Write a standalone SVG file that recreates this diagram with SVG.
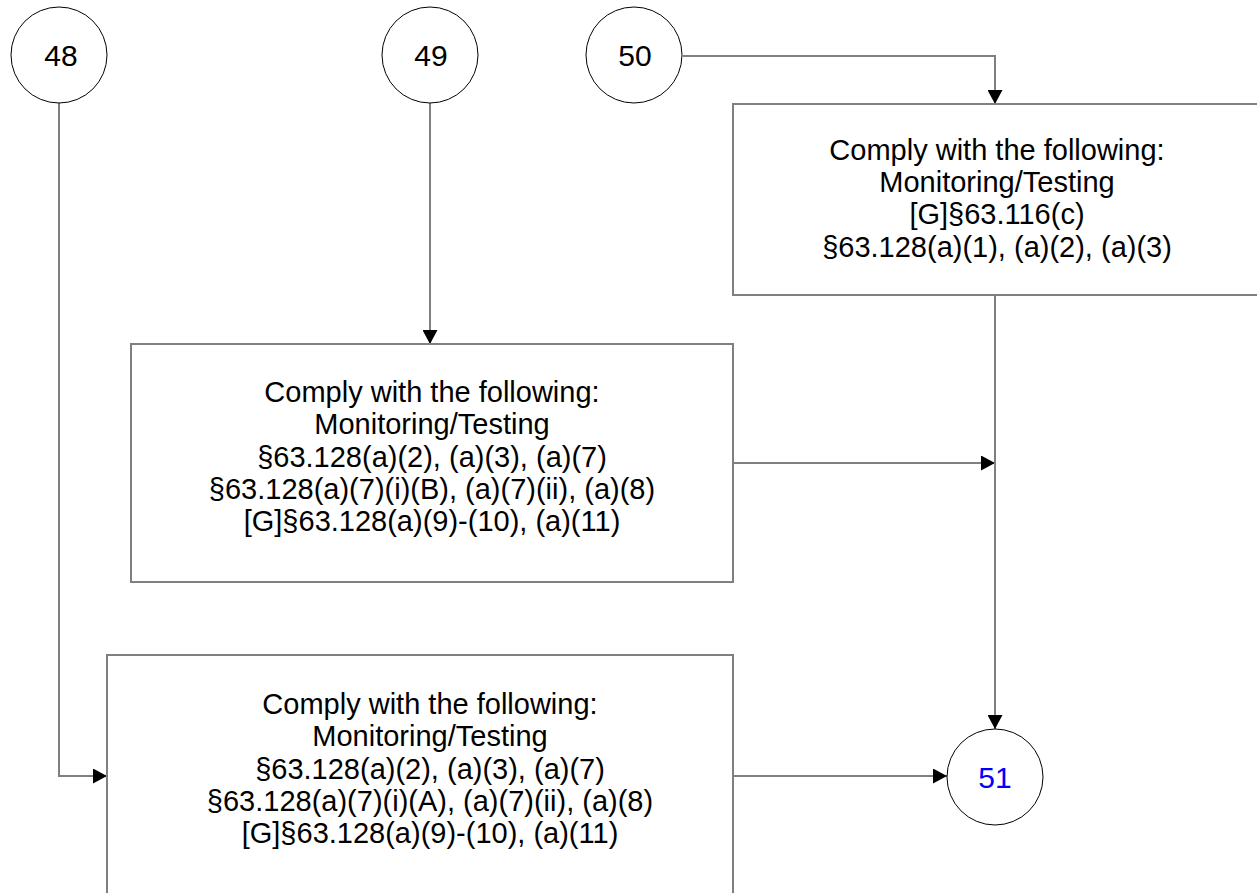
<svg xmlns="http://www.w3.org/2000/svg" width="1257" height="893" viewBox="0 0 1257 893">
<style>
.c{fill:#fff;stroke:#000;stroke-width:1}
.b{fill:#fff;stroke:#808080;stroke-width:2}
.e{fill:none;stroke:#808080;stroke-width:2}
text{font-family:"Liberation Sans",Arial,sans-serif;font-size:29px;text-anchor:middle;fill:#000}
.n{font-size:30px}
.blue{fill:#0000ff}
</style>
<defs>
<marker id="a" viewBox="0 0 14 15" refX="14" refY="7.5" markerWidth="14" markerHeight="15" markerUnits="userSpaceOnUse" orient="auto">
<path d="M0,0 L14,7.5 L0,15 Z" fill="#000"/>
</marker>
</defs>
<rect width="1257" height="893" fill="#fff"/>
<g id="connectors">
<path class="e" d="M59,103 V776 H107" marker-end="url(#a)"/>
<path class="e" d="M430,103 V344" marker-end="url(#a)"/>
<path class="e" d="M683,56 H995 V104" marker-end="url(#a)"/>
<path class="e" d="M733,463 H995" marker-end="url(#a)"/>
<path class="e" d="M995,295 V729" marker-end="url(#a)"/>
<path class="e" d="M733,776 H947" marker-end="url(#a)"/>
</g>
<g id="n48"><circle class="c" cx="59" cy="55" r="48"/><text class="n" x="61" y="66">48</text></g>
<g id="n49"><circle class="c" cx="430" cy="55" r="48"/><text class="n" x="431" y="66">49</text></g>
<g id="n50"><circle class="c" cx="634" cy="55" r="48"/><text class="n" x="635" y="66">50</text></g>
<g id="n51"><circle class="c" cx="995" cy="777" r="48"/><text class="n blue" x="995" y="788">51</text></g>
<g id="box1">
<path class="b" d="M1260,104 H733 V295 H1260"/>
<text x="997" y="160">Comply with the following:</text>
<text x="997" y="192">Monitoring/Testing</text>
<text x="997" y="224">[G]§63.116(c)</text>
<text x="997" y="257">§63.128(a)(1), (a)(2), (a)(3)</text>
</g>
<g id="box2">
<rect class="b" x="131" y="344" width="602" height="238"/>
<text x="432" y="402">Comply with the following:</text>
<text x="432" y="434">Monitoring/Testing</text>
<text x="432" y="467">§63.128(a)(2), (a)(3), (a)(7)</text>
<text x="432" y="499">§63.128(a)(7)(i)(B), (a)(7)(ii), (a)(8)</text>
<text x="432" y="531">[G]§63.128(a)(9)-(10), (a)(11)</text>
</g>
<g id="box3">
<path class="b" d="M107,900 V655 H733 V900"/>
<text x="430" y="714">Comply with the following:</text>
<text x="430" y="746">Monitoring/Testing</text>
<text x="430" y="779">§63.128(a)(2), (a)(3), (a)(7)</text>
<text x="430" y="811">§63.128(a)(7)(i)(A), (a)(7)(ii), (a)(8)</text>
<text x="430" y="843">[G]§63.128(a)(9)-(10), (a)(11)</text>
</g>
</svg>
